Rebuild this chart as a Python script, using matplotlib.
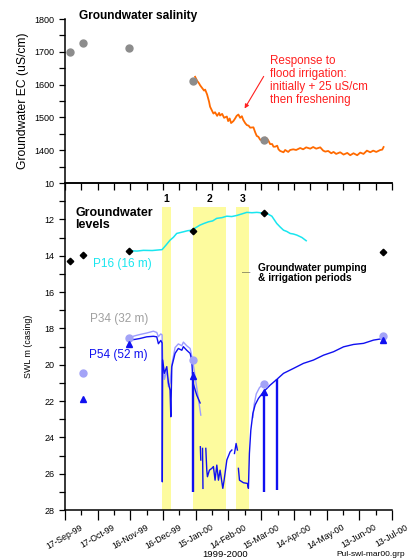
import numpy as np
import matplotlib
matplotlib.use("Agg")
import matplotlib.pyplot as plt
import matplotlib.dates as mdates
from datetime import datetime

plt.rcParams['font.family'] = ['Liberation Sans', 'DejaVu Sans']

# all x values are days since 17-Sep-1999
x0 = mdates.date2num(datetime(1999, 9, 17))

# manual sampling dates (same for EC and levels)
sample_days = [4.6, 16.5, 58.8, 117.1, 182.3]
sample_ec = [1700, 1728, 1712, 1610, 1430]

# logged EC
ec_days = [119.4, 121.2, 123.0, 124.0, 125.8, 127.6, 128.6, 130.4, 132.2, 133.1, 135.0, 136.2,
           137.7, 139.6, 141.4, 142.3, 144.2, 146.0, 148.5, 149.7, 151.1, 152.4, 154.5, 156.1,
           157.5, 159.1, 160.7, 162.3, 163.5, 165.3, 166.8, 168.5, 169.9, 172.9, 174.5, 175.9,
           177.5, 179.1, 180.9, 182.1, 183.7, 185.5, 186.7, 188.2, 190.1, 191.3, 192.8, 194.7,
           195.9, 197.4, 200.5, 202.0, 204.8, 206.6, 209.4, 212.1, 215.8, 218.5, 221.3, 225.0,
           227.7, 230.5, 234.2, 236.9, 238.8, 241.5, 244.3, 246.4, 248.8, 252.5, 255.6, 259.0,
           261.7, 264.7, 268.1, 270.9, 273.9, 277.0, 280.1, 282.8, 285.6, 289.3, 291.1, 292.3]
ec_vals = [1624, 1612, 1604, 1598, 1590, 1582, 1585, 1570, 1548, 1533, 1520, 1512,
           1516, 1505, 1514, 1506, 1511, 1499, 1503, 1489, 1497, 1483, 1489, 1497,
           1505, 1509, 1499, 1504, 1493, 1483, 1477, 1475, 1469, 1470, 1455, 1444,
           1441, 1432, 1431, 1431, 1439, 1435, 1429, 1419, 1419, 1411, 1411, 1414,
           1403, 1398, 1394, 1401, 1395, 1401, 1403, 1401, 1407, 1403, 1409, 1405,
           1410, 1405, 1409, 1399, 1396, 1398, 1391, 1395, 1389, 1394, 1387, 1392,
           1385, 1391, 1385, 1393, 1389, 1399, 1394, 1399, 1395, 1401, 1402, 1410]

# manual water levels
p16_man_days = [4.6, 16.5, 58.8, 117.1, 182.3, 292.0]
p16_man = [14.28, 13.96, 13.72, 12.64, 11.67, 13.78]
p34_man_days = [16.5, 58.8, 117.1, 182.3, 292.0]
p34_man = [20.44, 18.55, 19.74, 21.05, 18.40]
p54_man_days = [16.5, 58.8, 117.3, 182.3, 292.0]
p54_man = [21.90, 18.85, 20.60, 21.50, 18.65]

# logged P16
p16_days = [59.7, 66.0, 72.0, 80.0, 89.1, 92.7, 96.4, 99.5, 102.5, 108.6, 112.5, 116.3, 120.0,
            123.9, 127.5, 131.6, 135.5, 139.2, 144.0, 148.4, 153.0, 157.6, 162.0, 166.8, 171.5,
            176.0, 181.0, 185.2, 189.8, 194.3, 197.5, 200.5, 203.5, 206.6, 209.5, 212.7, 217.3, 221.3]
p16_vals = [13.72, 13.74, 13.70, 13.71, 13.66, 13.41, 13.14, 12.98, 12.77, 12.68, 12.62, 12.59, 12.45,
            12.31, 12.22, 12.13, 12.08, 11.94, 11.90, 11.82, 11.84, 11.78, 11.70, 11.61, 11.63,
            11.61, 11.64, 11.67, 11.82, 12.22, 12.42, 12.59, 12.66, 12.77, 12.80, 12.86, 12.99, 13.17]

# logged P34
p34_days = [58.8, 64.3, 68.9, 75.0, 81.1, 84.2, 85.7, 87.9, 89.1, 89.6, 91.2, 93.4, 94.9, 96.4,
            98.0, 101.0, 104.0, 107.2, 108.6, 111.7, 114.8, 116.3, 117.1, 118.5, 121.0, 124.6,
            124.8, 172.4, 173.5, 175.5, 178.5, 182.3]
p34_vals = [18.50, 18.40, 18.33, 18.25, 18.15, 18.22, 18.45, 18.30, 18.35, 19.60, 20.80, 20.30, 21.20, 21.00,
            20.00, 19.05, 18.85, 18.95, 18.75, 18.95, 19.10, 19.50, 19.74, 20.30, 21.30, 22.77,
            np.nan, 22.90, 22.20, 21.60, 21.25, 21.05]

# logged P54 (nan = gap in record)
p54_days = [58.8, 64.3, 68.9, 75.0, 81.1, 84.2, 85.7, 87.9, 89.1, 89.3, 89.6, 91.2, 93.4, 94.9,
            96.4, 97.1, 98.0, 101.0, 104.0, 107.2, 108.6, 111.7, 114.8, 116.3, 117.1, 117.5,
            120.9, 124.0, 124.1,
            124.2, 124.6, 124.7,
            126.2, 126.6, 126.7,
            129.2, 130.1, 130.7, 132.5, 134.7, 136.2, 137.7, 139.3, 140.8, 142.3, 144.8, 146.0,
            148.5, 151.5, 153.1, 153.2,
            155.5, 157.0, 158.2, 158.3,
            159.1, 160.1, 163.7, 167.4, 168.3, 169.2, 170.5, 172.4, 174.5, 177.5, 182.1, 188.2,
            194.4, 200.5, 209.6, 218.8, 227.9, 237.2, 246.4, 255.6, 264.7, 273.9, 283.1, 292.3]
p54_vals = [18.64, 18.60, 18.55, 18.46, 18.43, 18.46, 18.84, 18.66, 18.80, 26.44, 19.74, 20.47, 20.10, 21.00,
            21.40, 22.86, 20.10, 19.37, 19.10, 19.20, 19.00, 19.20, 19.37, 19.74, 20.60, 21.00,
            21.67, 22.10, np.nan,
            24.51, 25.24, np.nan,
            24.60, 26.80, np.nan,
            24.60, 25.80, 26.16, 25.80, 25.70, 25.60, 26.35, 25.52, 26.35, 25.80, 26.80, 26.35,
            25.24, 24.79, 24.69, np.nan,
            24.88, 24.33, 24.69, np.nan,
            25.70, 26.35, 26.49, 26.53, 26.80, 24.88, 23.60, 22.67, 22.20, 21.85, 21.49, 21.12,
            20.80, 20.47, 20.20, 19.92, 19.74, 19.47, 19.28, 19.01, 18.88, 18.82, 18.64, 18.55]

# pump test drawdowns in P54
drop_days = [117.3, 182.3, 194.4]
drop_top = [20.40, 21.50, 20.80]
drop_bottom = [27.00, 27.00, 26.90]

# pumping / irrigation periods
band_start = [89.1, 117.5, 157.0]
band_end = [97.3, 147.8, 169.0]
band_names = ['1', '2', '3']

tick_days = np.arange(0, 301, 30)
tick_labels = ['17-Sep-99', '17-Oct-99', '16-Nov-99', '16-Dec-99', '15-Jan-00', '14-Feb-00',
               '15-Mar-00', '14-Apr-00', '14-May-00', '13-Jun-00', '13-Jul-00']


def X(d):
    return x0 + np.asarray(d, dtype=float)


fig = plt.figure(figsize=(4.1, 5.6), dpi=100)
ax1 = fig.add_axes([0.1585, 0.673, 0.7975, 0.293])
ax2 = fig.add_axes([0.1585, 0.089, 0.7975, 0.584])

# ---- salinity panel
ax1.plot(X(ec_days), ec_vals, color='#ff6a00', lw=1.3, zorder=2)
ax1.plot(X(sample_days), sample_ec, 'o', color='#8c8c8c', ms=5, zorder=3)
ax1.set_xlim(X(0), X(300))
ax1.set_ylim(1300, 1800)
ax1.set_yticks([1400, 1500, 1600, 1700, 1800])
ax1.set_yticks(np.arange(1350, 1800, 100), minor=True)
for s in ['top', 'right', 'bottom']:
    ax1.spines[s].set_visible(False)
ax1.spines['left'].set_linewidth(1.1)
ax1.tick_params(axis='y', which='both', length=4, width=0.9, labelsize=6.5, direction='out')
ax1.set_xticks([])
ax1.patch.set_alpha(0)
ax1.set_ylabel('Groundwater EC (uS/cm)', fontsize=8.7, labelpad=4)
ax1.text(0.043, 1.018, 'Groundwater salinity', transform=ax1.transAxes, fontsize=8.6,
         fontweight='bold', va='center', ha='left')
ax1.text(0.627, 0.625, 'Response to\nflood irrigation:\ninitially + 25 uS/cm\nthen freshening',
         transform=ax1.transAxes, color='#ff2020', fontsize=8.4, va='center', ha='left',
         linespacing=1.12)
ax1.annotate('', xy=(X(163.5), 1520), xycoords='data', xytext=(0.612, 0.665),
             textcoords='axes fraction',
             arrowprops=dict(arrowstyle='-|>', color='#ff2020', lw=0.8, mutation_scale=6))

# ---- water level panel
for s, e in zip(band_start, band_end):
    ax2.fill_between(X([s, e]), 11.3, 28, color='#fdfb9e', lw=0, zorder=0)
for s, e, n in zip(band_start, band_end, band_names):
    ax2.text(X((s + e) / 2), 10.9, n, fontsize=7.5, fontweight='bold', ha='center', va='center')

ax2.plot(X(p34_days), p34_vals, color='#9c9cff', lw=1.0, zorder=2)
ax2.plot(X(p54_days), p54_vals, color='#1010f0', lw=1.0, zorder=3)
ax2.vlines(X(drop_days), drop_top, drop_bottom, color='#1010f0', lw=1.7, zorder=3)
ax2.plot(X(p16_days), p16_vals, color='#19e6ef', lw=1.1, zorder=3)
ax2.plot(X(p16_man_days), p16_man, 'D', color='black', ms=3.3, zorder=4)
ax2.plot(X(p34_man_days), p34_man, 'o', color='#a3a3f7', ms=5, zorder=4)
ax2.plot(X(p54_man_days), p54_man, '^', color='#1010f0', ms=4.5, zorder=5)

ax2.set_xlim(X(0), X(300))
ax2.set_ylim(28, 10)
ax2.set_yticks(np.arange(10, 29, 2))
ax2.set_yticks(np.arange(11, 28, 2), minor=True)
ax2.set_xticks(X(tick_days))
ax2.set_xticks(X(np.arange(15, 300, 30)), minor=True)
ax2.set_xticklabels(tick_labels, rotation=30, ha='center', fontsize=6.2)
ax2.spines['right'].set_visible(False)
for s in ['left', 'top', 'bottom']:
    ax2.spines[s].set_linewidth(1.1)
ax2.tick_params(axis='y', which='both', length=4, width=0.9, labelsize=6.5, direction='out')
ax2.tick_params(axis='x', which='major', length=7, width=0.9, direction='out', pad=2)
ax2.tick_params(axis='x', which='minor', length=3.6, width=0.9, direction='out')
ax2.patch.set_alpha(0)
ax2.set_ylabel('SWL m (casing)', fontsize=6.4, labelpad=8)

# top axis ticks point down into the plot
sec = ax2.secondary_xaxis('top')
sec.set_xticks(X(tick_days))
sec.set_xticks(X(np.arange(15, 300, 30)), minor=True)
sec.tick_params(axis='x', which='both', direction='in', length=5, width=0.9, labeltop=False)
sec.spines['top'].set_linewidth(1.1)

ax2.text(0.031, 0.89, 'Groundwater\nlevels', transform=ax2.transAxes, fontsize=9,
         fontweight='bold', va='center', ha='left', linespacing=1.05)
ax2.text(0.086, 0.752, 'P16 (16 m)', transform=ax2.transAxes, fontsize=8.5,
         color='#19e6ef', va='center', ha='left')
ax2.text(0.076, 0.584, 'P34 (32 m)', transform=ax2.transAxes, fontsize=8.5,
         color='#a0a0a0', va='center', ha='left')
ax2.text(0.073, 0.474, 'P54 (52 m)', transform=ax2.transAxes, fontsize=8.5,
         color='#1010f0', va='center', ha='left')
ax2.text(0.542, 0.727, '\u2014', transform=ax2.transAxes, fontsize=6, color='#333333',
         va='center', ha='left')
ax2.text(0.590, 0.725, 'Groundwater pumping\n& irrigation periods', transform=ax2.transAxes,
         fontsize=7.3, fontweight='bold', va='center', ha='left', linespacing=1.1)

fig.text(0.55, 0.001, '1999-2000', fontsize=6.8, ha='center', va='bottom')
fig.text(0.988, 0.0105, 'Pul-swl-mar00.grp', fontsize=6, ha='right', va='center')

fig.savefig('out.png', dpi=100)
